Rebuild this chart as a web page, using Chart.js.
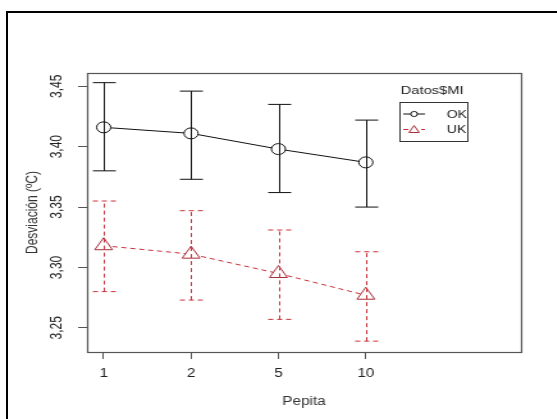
<!DOCTYPE html>
<html>
<head>
<meta charset="utf-8">
<title>Desviación por Pepita</title>
<script src="https://cdn.jsdelivr.net/npm/chart.js@4.4.0/dist/chart.umd.min.js"></script>
<style>
  html, body { margin: 0; padding: 0; background: #fff; overflow: hidden; }
  /* black frame of the original screenshot (left and top edges only) */
  #frame { position: absolute; left: 6px; top: 11px; width: 600px; height: 500px;
           border-left: 2px solid #000; border-top: 2px solid #000; }
  /* the reference image is stretched horizontally, so the canvas is too */
  #plot { position: absolute; left: 0; top: 0; transform: scaleX(1.28); transform-origin: 0 0; }
</style>
</head>
<body>
<div id="frame"></div>
<canvas id="plot" width="435" height="419"></canvas>
<script>
// ---------- Data ----------
var categories = ['1', '2', '5', '10'];      // levels of Pepita
var xTicks = [1, 2, 3, 4];                    // position of each level
var yTicks = [3.25, 3.30, 3.35, 3.40, 3.45];

var okMean  = [3.416, 3.411, 3.398, 3.387];
var okLower = [3.380, 3.373, 3.362, 3.350];
var okUpper = [3.453, 3.446, 3.435, 3.422];

var ukMean  = [3.318, 3.311, 3.295, 3.277];
var ukLower = [3.280, 3.273, 3.257, 3.239];
var ukUpper = [3.355, 3.347, 3.331, 3.313];

var seriesNames = ['OK', 'UK'];
var legendTitle = 'Datos$MI';

var RED = '#c8323a';
var TEXT = '#222';

Chart.defaults.font.family = '"Liberation Sans", Arial, sans-serif';
Chart.defaults.font.size = 12;

function points(values) {
    return xTicks.map(function(x, i) { return { x: x, y: values[i] }; });
}

// ---------- Plugins ----------
// Box around the plotting region, like R's box()
var plotBox = {
    id: 'plotBox',
    afterDraw: function(chart) {
        var a = chart.chartArea, ctx = chart.ctx;
        ctx.save();
        ctx.strokeStyle = '#555';
        ctx.lineWidth = 1.2;
        ctx.strokeRect(Math.round(a.left) + 0.5, Math.round(a.top) + 0.5,
                       Math.round(a.right - a.left), Math.round(a.bottom - a.top));
        ctx.restore();
    }
};

// Confidence interval bars for every dataset
var errorBars = {
    id: 'errorBars',
    afterDatasetsDraw: function(chart) {
        var ctx = chart.ctx, xs = chart.scales.x, ys = chart.scales.y;
        chart.data.datasets.forEach(function(ds) {
            ctx.save();
            ctx.strokeStyle = ds.borderColor;
            ctx.lineWidth = 1;
            ctx.setLineDash(ds.borderDash || []);
            ds.data.forEach(function(p, i) {
                var x = Math.round(xs.getPixelForValue(p.x)) + 0.5;
                var yLo = ys.getPixelForValue(ds.errLow[i]);
                var yHi = ys.getPixelForValue(ds.errHigh[i]);
                ctx.beginPath();
                ctx.moveTo(x, yLo); ctx.lineTo(x, yHi);
                ctx.moveTo(x - 9, yLo); ctx.lineTo(x + 9, yLo);
                ctx.moveTo(x - 9, yHi); ctx.lineTo(x + 9, yHi);
                ctx.stroke();
            });
            ctx.restore();
        });
    }
};

// R-style legend with title, inside the plot
var rLegend = {
    id: 'rLegend',
    afterDraw: function(chart) {
        var ctx = chart.ctx;
        ctx.save();
        ctx.fillStyle = TEXT;
        ctx.textBaseline = 'middle';
        ctx.textAlign = 'left';
        ctx.font = '11.5px "Liberation Sans", Arial, sans-serif';
        ctx.fillText(legendTitle, 313, 91);

        ctx.strokeStyle = '#333';
        ctx.lineWidth = 1;
        ctx.strokeRect(312.5, 102.5, 53, 39);

        var rows = [114, 129.5];
        chart.data.datasets.forEach(function(ds, i) {
            var y = rows[i];
            ctx.strokeStyle = ds.borderColor;
            ctx.setLineDash(ds.borderDash || []);
            ctx.beginPath();
            ctx.moveTo(315, y); ctx.lineTo(332, y);
            ctx.stroke();
            ctx.setLineDash([]);
            ctx.fillStyle = '#fff';
            ctx.strokeStyle = ds.pointBorderColor;
            ctx.beginPath();
            if (ds.pointStyle === 'triangle') {
                ctx.moveTo(323.5, y - 4); ctx.lineTo(327.5, y + 3); ctx.lineTo(319.5, y + 3);
                ctx.closePath();
            } else {
                ctx.arc(323.5, y, 2.6, 0, Math.PI * 2);
            }
            ctx.fill();
            ctx.stroke();
            ctx.fillStyle = TEXT;
            ctx.font = '11px "Liberation Sans", Arial, sans-serif';
            ctx.fillText(ds.label, 349, y + 0.5);
        });
        ctx.restore();
    }
};

// ---------- Chart ----------
var ctx = document.getElementById('plot').getContext('2d');
var chart = new Chart(ctx, {
    type: 'line',
    data: {
        datasets: [{
            label: seriesNames[0],
            data: points(okMean),
            errLow: okLower,
            errHigh: okUpper,
            borderColor: '#111',
            borderWidth: 1,
            pointStyle: 'circle',
            pointRadius: 5.5,
            pointBorderWidth: 1,
            pointBorderColor: '#111',
            pointBackgroundColor: '#fff'
        }, {
            label: seriesNames[1],
            data: points(ukMean),
            errLow: ukLower,
            errHigh: ukUpper,
            borderColor: RED,
            borderWidth: 1,
            borderDash: [4, 3],
            pointStyle: 'triangle',
            pointRadius: 8,
            pointBorderWidth: 1,
            pointBorderColor: '#a8303a',
            pointBackgroundColor: '#fff'
        }]
    },
    options: {
        responsive: false,
        animation: false,
        layout: { padding: { top: 73, right: 28, left: 0, bottom: 0 } },
        plugins: {
            legend: { display: false },
            tooltip: { enabled: false }
        },
        scales: {
            x: {
                type: 'linear',
                min: 0.81,
                max: 5.775,
                afterBuildTicks: function(scale) {
                    scale.ticks = xTicks.map(function(v) { return { value: v }; });
                },
                afterFit: function(scale) { scale.height = 67; },
                grid: { display: true, drawOnChartArea: false, drawTicks: true, tickLength: 7, color: '#555' },
                border: { display: false },
                ticks: {
                    autoSkip: false,
                    maxRotation: 0,
                    padding: 7,
                    color: TEXT,
                    callback: function(v) { return categories[xTicks.indexOf(v)]; }
                },
                title: { display: true, text: 'Pepita', color: '#333', padding: { top: 0, bottom: 10 } }
            },
            y: {
                min: 3.230,
                max: 3.461,
                afterBuildTicks: function(scale) {
                    scale.ticks = yTicks.map(function(v) { return { value: v }; });
                },
                afterFit: function(scale) { scale.width = 68; },
                grid: { display: true, drawOnChartArea: false, drawTicks: true, tickLength: 7, color: '#555' },
                border: { display: false },
                ticks: {
                    autoSkip: false,
                    minRotation: 90,
                    maxRotation: 90,
                    crossAlign: 'center',
                    padding: 5,
                    color: TEXT,
                    callback: function(v) { return v.toFixed(2).replace('.', ','); }
                },
                title: { display: true, text: 'Desviación (ºC)', color: '#333', padding: { top: 18, bottom: 0 } }
            }
        }
    },
    plugins: [plotBox, errorBars, rLegend]
});
</script>
</body>
</html>
